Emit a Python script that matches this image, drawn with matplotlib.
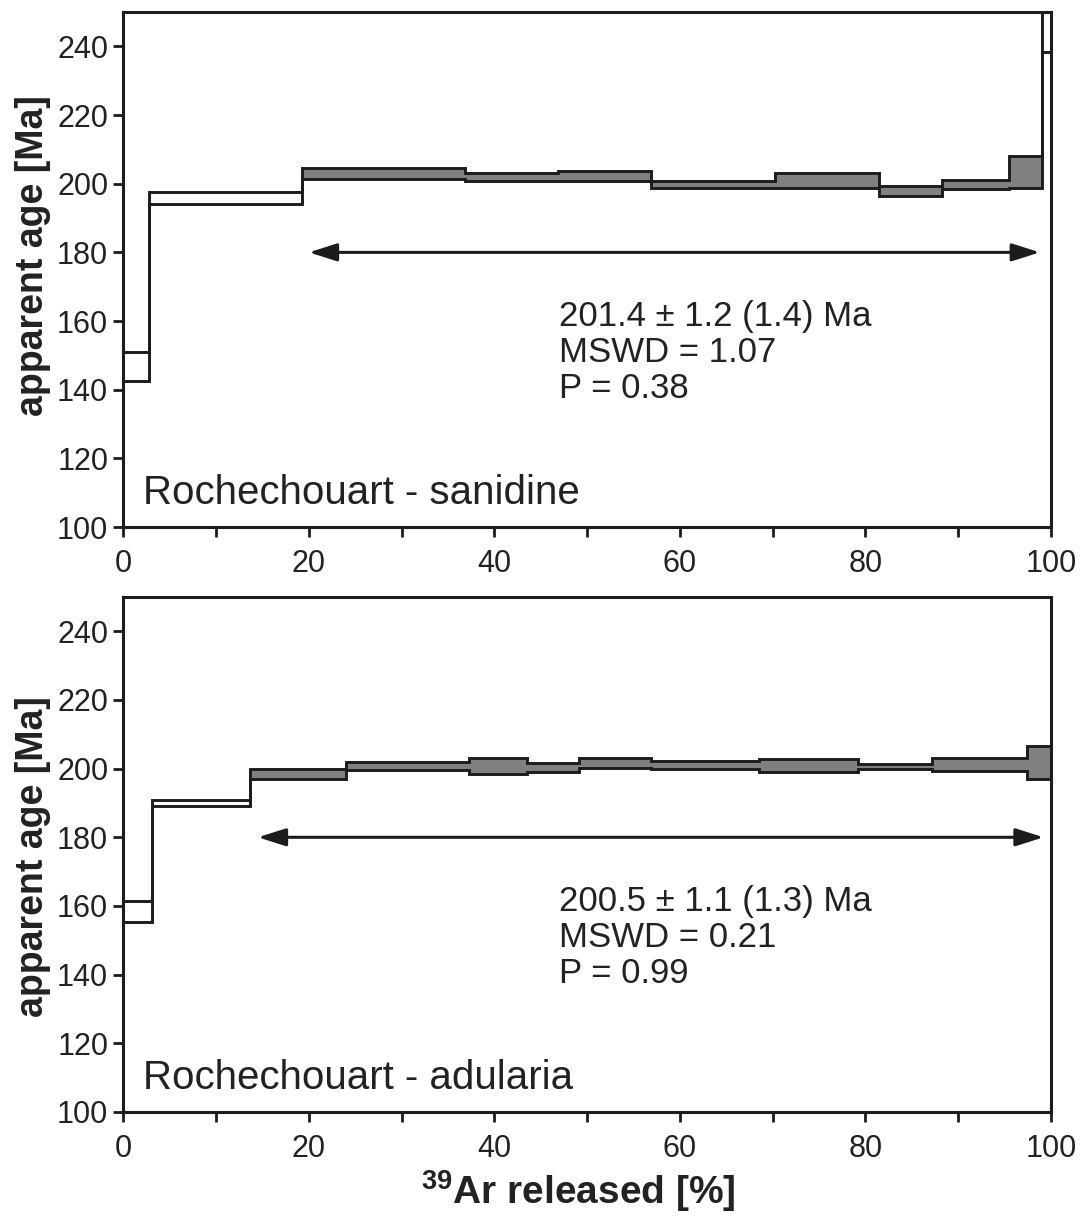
import matplotlib
matplotlib.use('Agg')
import matplotlib.pyplot as plt

# Font setup
plt.rcParams['font.family'] = ['Liberation Sans', 'DejaVu Sans']
plt.rcParams['mathtext.fontset'] = 'custom'
plt.rcParams['mathtext.rm'] = 'Liberation Sans'
plt.rcParams['mathtext.bf'] = 'Liberation Sans:bold'
TICK_FONT = ['Liberation Sans Narrow', 'Liberation Sans', 'DejaVu Sans']

# Sanidine steps: cumulative 39Ar edges [%], age low/high [Ma]
san_edges = [0, 2.7, 19.3, 36.8, 46.9, 56.9, 70.3, 81.5, 88.3, 95.5, 99.0, 100]
san_lo = [142.4, 194.2, 201.4, 200.7, 200.9, 198.8, 198.7, 196.5, 198.4, 198.7, 238.5]
san_hi = [150.9, 197.7, 204.5, 203.1, 203.8, 200.9, 203.0, 199.4, 201.0, 208.0, 265.0]
san_plateau = [False, False, True, True, True, True, True, True, True, True, False]
san_left_top = 202.2
san_arrow = (20.0, 98.8, 180)
san_label = 'Rochechouart - sanidine'
san_result = ['201.4 \u00b1 1.2 (1.4) Ma', 'MSWD = 1.07', 'P = 0.38']

# Adularia steps
adu_edges = [0, 3.1, 13.6, 24.0, 37.3, 43.5, 49.1, 56.9, 68.5, 79.2, 87.2, 97.4, 100]
adu_lo = [155.4, 189.0, 197.0, 199.6, 198.4, 199.1, 200.1, 199.9, 199.0, 199.9, 199.3, 196.9]
adu_hi = [161.4, 190.8, 199.8, 201.8, 203.0, 201.6, 203.1, 202.2, 202.7, 201.4, 203.0, 206.5]
adu_plateau = [False, False, True, True, True, True, True, True, True, True, True, True]
adu_left_top = 161.4
adu_arrow = (14.5, 99.2, 180)
adu_label = 'Rochechouart - adularia'
adu_result = ['200.5 \u00b1 1.1 (1.3) Ma', 'MSWD = 0.21', 'P = 0.99']

LINE = '#1c1c1c'
GRAY = '#808080'
TXT = '#222222'


def draw_spectrum(ax, edges, lo, hi, plateau, left_top, arrow, label, result, ylab_y):
    widths = [edges[i + 1] - edges[i] for i in range(len(lo))]
    heights = [hi[i] - lo[i] for i in range(len(lo))]
    colors = [GRAY if p else 'white' for p in plateau]
    ax.bar(edges[:-1], heights, widths, bottom=lo, align='edge',
           color=colors, linewidth=0, zorder=2)

    # upper and lower step outlines
    ax.stairs(hi, edges, color=LINE, linewidth=2.1, zorder=3)
    ax.stairs(lo, edges, color=LINE, linewidth=2.1, zorder=3)
    ax.vlines(edges[0], lo[0], left_top, color=LINE, linewidth=2.1, zorder=3)
    ax.vlines(edges[-1], lo[-1], hi[-1], color=LINE, linewidth=2.1, zorder=3)

    # plateau arrow
    ax.annotate('', xy=(arrow[0], arrow[2]), xytext=(arrow[1], arrow[2]),
                arrowprops=dict(arrowstyle='<|-|>,head_length=0.85,head_width=0.27',
                                color=LINE, lw=2.2, mutation_scale=20,
                                shrinkA=0, shrinkB=0))

    ax.text(47.0, 150.8, '\n'.join(result), fontsize=25, color=TXT,
            ha='left', va='center', linespacing=1.12)
    ax.text(2.1, 110, label, fontsize=29, color=TXT, ha='left', va='center')

    ax.set_xlim(0, 100)
    ax.set_ylim(100, 250)
    ax.set_xticks(range(0, 101, 20))
    ax.set_xticks(range(10, 100, 20), minor=True)
    ax.set_yticks(range(100, 241, 20))
    ax.tick_params(axis='both', which='both', direction='out', length=7,
                   width=2.0, color=LINE, labelcolor=TXT)
    ax.tick_params(axis='x', which='both', pad=9)
    ax.tick_params(axis='y', pad=4)
    for t in ax.get_xticklabels() + ax.get_yticklabels():
        t.set_fontfamily(TICK_FONT)
        t.set_fontsize(22)
    for s in ax.spines.values():
        s.set_linewidth(2.2)
        s.set_color(LINE)
        s.set_zorder(4)

    ax.set_ylabel('apparent age [Ma]', fontsize=27, fontweight='bold', color=TXT)
    ax.yaxis.set_label_coords(-0.078, ylab_y)


fig = plt.figure(figsize=(10.84, 12.26), dpi=100)
ax1 = fig.add_axes([0.1139, 0.5701, 0.8556, 0.4201])
ax2 = fig.add_axes([0.1139, 0.0930, 0.8556, 0.4201])

draw_spectrum(ax1, san_edges, san_lo, san_hi, san_plateau, san_left_top,
              san_arrow, san_label, san_result, 0.527)
draw_spectrum(ax2, adu_edges, adu_lo, adu_hi, adu_plateau, adu_left_top,
              adu_arrow, adu_label, adu_result, 0.495)

ax2.set_xlabel(r'$^{\mathbf{39}}$Ar released [%]', fontsize=28,
               fontweight='bold', color=TXT)
ax2.xaxis.set_label_coords(0.49, -0.11)
ax2.xaxis.label.set_va('top')

fig.savefig('out.png', dpi=100)
